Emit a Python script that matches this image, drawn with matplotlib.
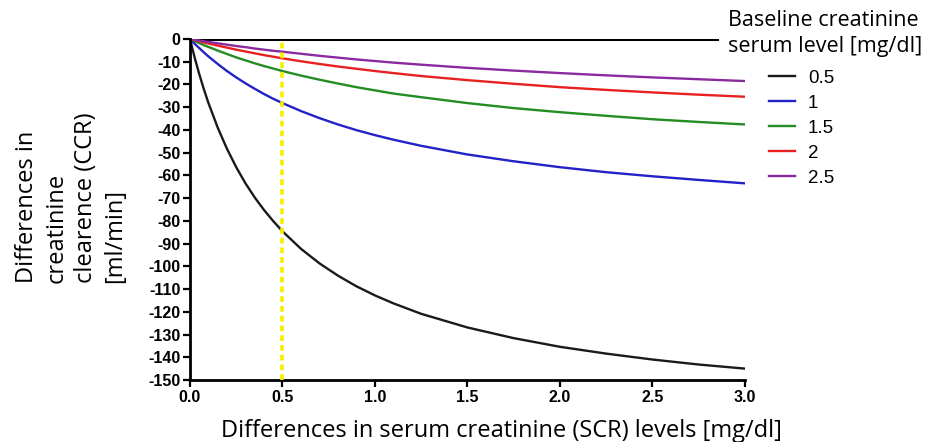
import numpy as np
import matplotlib
matplotlib.use('Agg')
import matplotlib.pyplot as plt

# Differences in serum creatinine (x) and read-off CCR differences per baseline
scr_diff = [0.0, 0.025, 0.05, 0.075, 0.1, 0.15, 0.2, 0.25, 0.3, 0.35, 0.4,
            0.45, 0.5, 0.6, 0.7, 0.8, 0.9, 1.0, 1.1, 1.25, 1.5, 1.75, 2.0,
            2.25, 2.5, 2.75, 3.0]
ccr_05 = [0, -8.1, -15.4, -22.1, -28.2, -39.0, -48.3, -56.4, -63.5, -69.7,
          -75.2, -80.1, -84.6, -92.3, -98.7, -104.1, -108.8, -112.8, -116.3,
          -120.9, -126.9, -131.6, -135.4, -138.4, -141.0, -143.2, -145.0]
ccr_1 = [0, -2.1, -4.0, -5.9, -7.7, -11.0, -14.1, -16.9, -19.5, -21.9,
         -24.2, -26.3, -28.2, -31.7, -34.8, -37.6, -40.1, -42.3, -44.3,
         -47.0, -50.8, -53.8, -56.4, -58.6, -60.4, -62.0, -63.5]
ccr_15 = [0, -0.9, -1.8, -2.7, -3.5, -5.1, -6.6, -8.1, -9.4, -10.7,
          -11.9, -13.0, -14.1, -16.1, -17.9, -19.6, -21.2, -22.6, -24.0,
          -25.6, -28.2, -30.4, -32.2, -33.8, -35.3, -36.5, -37.6]
ccr_2 = [0, -0.5, -1.0, -1.5, -2.0, -2.9, -3.8, -4.7, -5.5, -6.3,
         -7.1, -7.8, -8.5, -9.8, -11.0, -12.1, -13.1, -14.1, -15.0,
         -16.3, -18.1, -19.7, -21.2, -22.4, -23.5, -24.5, -25.4]
ccr_25 = [0, -0.3, -0.7, -1.0, -1.3, -1.9, -2.5, -3.1, -3.6, -4.2,
          -4.7, -5.2, -5.6, -6.5, -7.4, -8.2, -9.0, -9.7, -10.4,
          -11.3, -12.7, -13.9, -15.0, -16.0, -16.9, -17.7, -18.5]

series_labels = ['0.5', '1', '1.5', '2', '2.5']
series_colors = ['#1a1a1a', '#2222c8', '#238c23', '#e82020', '#8a2aa0']
marker_x = 0.5

x_ticks = [0.0, 0.5, 1.0, 1.5, 2.0, 2.5, 3.0]
y_ticks = list(range(0, -151, -10))

fig = plt.figure(figsize=(9.34, 4.42), dpi=100)
ax = fig.add_axes([0.2034, 0.1403, 0.5942, 0.7715])

# zero reference line
ax.axhline(0, xmin=0, xmax=0.95, color='black', lw=2.2, zorder=1)

all_series = [ccr_05, ccr_1, ccr_15, ccr_2, ccr_25]
handles = []
for vals, lab, col in zip(all_series, series_labels, series_colors):
    h, = ax.plot(scr_diff, vals, color=col, lw=1.7, label=lab, zorder=2,
                 solid_joinstyle='round')
    handles.append(h)

ax.axvline(marker_x, color='#f5ee00', lw=2.6, ls=(0, (1.6, 1.1)), zorder=3)

ax.set_xlim(0, 3.0)
ax.set_ylim(-150, 0)
ax.set_xticks(x_ticks)
ax.set_xticklabels(['%.1f' % v for v in x_ticks])
ax.set_yticks(y_ticks)
ax.set_yticklabels([str(v) for v in y_ticks])

for lab in ax.get_xticklabels() + ax.get_yticklabels():
    lab.set_fontfamily('Liberation Sans')
    lab.set_fontweight('bold')
    lab.set_fontsize(11.5)

ax.spines['top'].set_visible(False)
ax.spines['right'].set_visible(False)
ax.spines['left'].set_linewidth(2)
ax.spines['bottom'].set_linewidth(2)
ax.tick_params(axis='both', direction='out', length=5, width=1.6, pad=2)

ax.set_xlabel('Differences in serum creatinine (SCR) levels [mg/dl]',
              fontfamily='Open Sans', fontsize=17)
ax.xaxis.set_label_coords(0.562, -0.115)

fig.text(0.016, 0.553, 'Differences in\ncreatinine\nclearence (CCR)\n[ml/min]',
         rotation=90, ha='left', va='center', multialignment='left',
         fontfamily='Open Sans', fontsize=17, linespacing=1.3)

fig.text(0.779, 0.978, 'Baseline creatinine\nserum level [mg/dl]',
         ha='left', va='top', fontfamily='Open Sans', fontsize=15.5,
         linespacing=1.35)

leg = fig.legend(handles=handles, loc='upper left',
                 bbox_to_anchor=(0.815, 0.86), frameon=False,
                 prop={'family': 'Liberation Sans', 'size': 13.5},
                 handlelength=1.4, handletextpad=0.7, labelspacing=0.42,
                 borderaxespad=0)

fig.savefig('out.png', dpi=100)
